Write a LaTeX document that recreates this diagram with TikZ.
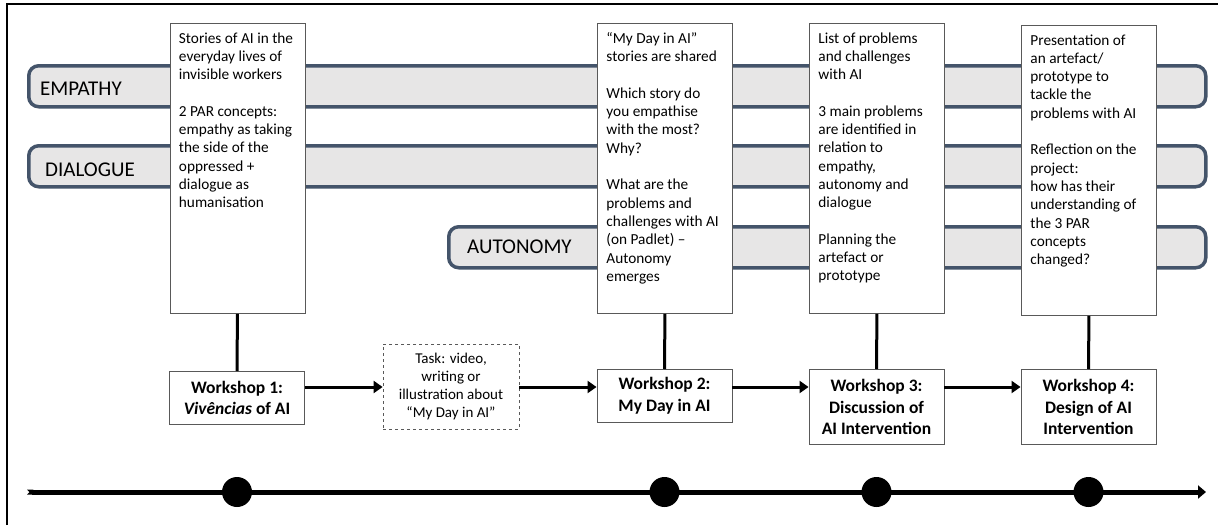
\documentclass[tikz,border=0pt]{standalone}
\usepackage{fontspec}
\setmainfont{Carlito}
\usepackage{xcolor}
\usetikzlibrary{arrows.meta,positioning}
\definecolor{bandline}{HTML}{44546A}
\definecolor{bandfill}{HTML}{E7E6E6}
\definecolor{boxline}{HTML}{595959}
\newcommand{\cardtext}[1]{\parbox[c][272pt][t]{117pt}{\raggedright\fontsize{15.3}{18.3}\selectfont #1}}

\tikzset{
	band/.style={draw=bandline, line width=3.5pt, fill=bandfill, rounded corners=10pt, anchor=north west, minimum height=41pt, inner sep=0pt},
	bandlabel/.style={anchor=west, inner sep=0pt, font=\fontsize{21}{24}\selectfont},
	card/.style={draw=boxline, fill=white, line width=0.9pt, anchor=north west, inner sep=9pt},
	workshop/.style={draw=boxline, fill=white, line width=0.9pt, anchor=north, minimum width=135pt, minimum height=53pt, align=center, font=\fontsize{17.5}{21.5}\selectfont\bfseries},
	taskbox/.style={draw=boxline, dashed, line width=0.8pt, minimum width=136pt, minimum height=85pt, align=center, font=\fontsize{15}{18}\selectfont},
	link/.style={line width=3pt},
	flow/.style={line width=3pt, -{Triangle[length=9pt,width=12pt]}},
	timeline/.style={line width=5pt, {Triangle Cap[reversed]}-{Triangle[length=8pt,width=13pt]}},
	dot/.style={circle, fill=black, minimum size=30pt, inner sep=0pt},
}

\begin{document}
\begin{tikzpicture}[x=1pt,y=-1pt]
	\useasboundingbox (0,0) rectangle (1218,525);
	\draw[line width=2.5pt] (7,525) -- (7,4) -- (1218,4);
	
	\node[band, minimum width=1177pt] (empathy) at (27,64) {};
	\node[band, minimum width=1177pt] (dialogue) at (27,144) {};
	\node[band, minimum width=757pt] (autonomy) at (447,225) {};
	\node[bandlabel] (empathytext) at ([xshift=13pt,yshift=-3pt]empathy.west) {EMPATHY};
	\node[bandlabel] (dialoguetext) at ([xshift=18pt,yshift=-4pt]dialogue.west) {DIALOGUE};
	\node[bandlabel] (autonomytext) at ([xshift=20pt]autonomy.west) {AUTONOMY};
	
	\node[card] (card1) at (169.5,23) {\cardtext{Stories of AI in the\\ everyday lives of\\ invisible workers\\[18.3pt] 2 PAR concepts:\\ empathy as taking\\ the side of the\\ oppressed +\\ dialogue as\\ humanisation}};
	\node[card] (card2) at (597,23) {\cardtext{“My Day in AI”\\ stories are shared\\[18.3pt] Which story do\\ you empathise\\ with the most?\\ Why?\\[18.3pt] What are the\\ problems and\\ challenges with AI\\ (on Padlet) –\\ Autonomy\\ emerges}};
	\node[card] (card3) at (809,23) {\cardtext{List of problems\\ and challenges\\ with AI\\[18.3pt] 3 main problems\\ are identified in\\ relation to\\ empathy,\\ autonomy and\\ dialogue\\[18.3pt] Planning the\\ artefact or\\ prototype}};
	\node[card] (card4) at (1021,25) {\cardtext{Presentation of\\ an artefact/\\ prototype to\\ tackle the\\ problems with AI\\[18.3pt] Reflection on the\\ project:\\ how has their\\ understanding of\\ the 3 PAR\\ concepts\\ changed?}};
	
	\node[workshop] (ws1) at (237,371) {Workshop 1:\\ \textit{Vivências} of AI};
	\node[taskbox] (task) at (451,386.5) {Task: video,\\ writing or\\ illustration about\\ “My Day in AI”};
	\node[workshop] (ws2) at (664.5,369) {Workshop 2:\\ My Day in AI};
	\node[workshop, minimum height=75pt] (ws3) at (876.5,369) {Workshop 3:\\ Discussion of\\ AI Intervention};
	\node[workshop, minimum height=75pt] (ws4) at (1088.5,369) {Workshop 4:\\ Design of AI\\ Intervention};
	
	\foreach \i in {1,...,4}
		\draw[link] (card\i.south) -- (ws\i.north);
	
	\coordinate (flowline) at (0,387);
	\draw[flow] (ws1.east |- flowline) -- (task.west |- flowline);
	\draw[flow] (task.east |- flowline) -- (ws2.west |- flowline);
	\draw[flow] (ws2.east |- flowline) -- (ws3.west |- flowline);
	\draw[flow] (ws3.east |- flowline) -- (ws4.west |- flowline);
	
	\coordinate (tlstart) at (27,492);
	\coordinate (tlend) at (1206,492);
	\draw[timeline] (tlstart) -- (tlend);
	\foreach \i in {1,...,4}
		\node[dot] (dot\i) at (ws\i.south |- tlstart) {};
\end{tikzpicture}
\end{document}
